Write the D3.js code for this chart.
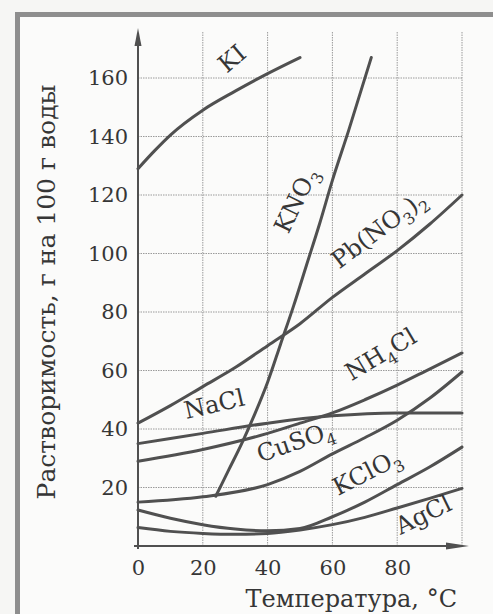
<!DOCTYPE html>
<html lang="ru">
<head>
    <meta charset="UTF-8">
    <title>Растворимость</title>
    <script src="https://d3js.org/d3.v7.min.js"></script>
    <style>
        body { margin: 0; background-color: #f6f6f4; }
        svg { display: block; }
        text { font-family: "DejaVu Serif", serif; fill: #363636; }
    </style>
</head>
<body>
    <svg id="chart" width="493" height="614"></svg>
    <script>
        // axis ticks
        const xTicks = [0, 20, 40, 60, 80];
        const yTicks = [20, 40, 60, 80, 100, 120, 140, 160];
        const xGrid = [20, 40, 60, 80, 100];

        // solubility curves, [temperature °C, g per 100 g water]
        const kiData = [[0, 129], [5, 135], [10, 140.5], [20, 149], [30, 155.5], [40, 161.5], [50, 167]];
        const kno3Data = [[24, 17], [28, 26], [32, 35], [36, 45], [40, 56], [44, 69], [48, 82], [52, 96], [56, 110], [60, 125], [65, 142], [72, 167]];
        const pbData = [[0, 42], [10, 48], [20, 54.5], [30, 61], [40, 68.5], [50, 76], [60, 85], [70, 93], [80, 101], [90, 110], [100, 120]];
        const nh4clData = [[0, 29], [20, 33], [40, 38.5], [50, 42], [60, 45.5], [70, 50], [80, 55], [90, 60.5], [100, 66]];
        const naclData = [[0, 35], [20, 38.5], [40, 42], [60, 44.5], [80, 45.5], [100, 45.5]];
        const cuso4Data = [[0, 15], [20, 16.8], [40, 21], [50, 25.5], [60, 31.5], [70, 37], [80, 43], [90, 50.5], [100, 59.5]];
        const kclo3Data = [[0, 12.3], [10, 9.5], [20, 7.3], [30, 5.8], [40, 5.2], [50, 6], [60, 10], [70, 15], [80, 21], [90, 27], [100, 33.8]];
        const agclData = [[0, 6.3], [10, 5], [20, 4.3], [30, 4], [40, 4.3], [50, 5.5], [60, 7.3], [70, 9.8], [80, 13], [90, 16.3], [100, 19.7]];

        const series = [kiData, kno3Data, pbData, nh4clData, naclData, cuso4Data, kclo3Data, agclData];

        // curve labels: name parts [text, isSubscript], anchor in data units, rotation
        const labels = [
            { parts: [["KI", 0]], t: 30.6, s: 164.5, angle: -40 },
            { parts: [["KNO", 0], ["3", 1]], t: 51, s: 117, angle: -64 },
            { parts: [["Pb(NO", 0], ["3", 1], [")", 0], ["2", 1]], t: 75.8, s: 106, angle: -37 },
            { parts: [["NH", 0], ["4", 1], ["Cl", 0]], t: 76.2, s: 63.2, angle: -31 },
            { parts: [["NaCl", 0]], t: 24.1, s: 45.8, angle: -13 },
            { parts: [["CuSO", 0], ["4", 1]], t: 49.4, s: 33, angle: -19 },
            { parts: [["KClO", 0], ["3", 1]], t: 71.8, s: 22.8, angle: -27 },
            { parts: [["AgCl", 0]], t: 89.2, s: 8.2, angle: -26 }
        ];

        const svg = d3.select("#chart");

        const x = d3.scaleLinear().domain([0, 100]).range([138, 462]);
        const y = d3.scaleLinear().domain([0, 160]).range([546, 78]);
        const gridTop = 176;

        // frame
        svg.append("rect")
            .attr("x", 17.5).attr("y", 14.5)
            .attr("width", 500).attr("height", 620)
            .attr("fill", "#fbfbfa")
            .attr("stroke", "#8e8e8e")
            .attr("stroke-width", 5);

        // grid
        const grid = svg.append("g")
            .attr("stroke", "#9a9a9a")
            .attr("stroke-width", 1)
            .attr("stroke-dasharray", "1.5,1");

        grid.selectAll(".vg").data(xGrid).enter().append("line")
            .attr("x1", d => x(d)).attr("x2", d => x(d))
            .attr("y1", y(0)).attr("y2", y(gridTop));

        grid.selectAll(".hg").data(yTicks).enter().append("line")
            .attr("x1", x(0)).attr("x2", x(100))
            .attr("y1", d => y(d)).attr("y2", d => y(d));

        // tick labels
        const yAxis = svg.append("g")
            .attr("transform", `translate(${x(0)},0)`)
            .call(d3.axisLeft(y).tickValues(yTicks).tickSize(0).tickPadding(10));
        yAxis.select(".domain").remove();

        const xAxis = svg.append("g")
            .attr("transform", `translate(0,${y(0)})`)
            .call(d3.axisBottom(x).tickValues(xTicks).tickSize(0).tickPadding(14));
        xAxis.select(".domain").remove();

        svg.selectAll(".tick text")
            .style("font-size", "21px")
            .attr("fill", "#363636");

        // axis lines with arrows
        const axisColor = "#505050";
        svg.append("line")
            .attr("x1", x(0)).attr("x2", x(0))
            .attr("y1", y(0) + 3).attr("y2", 40)
            .attr("stroke", axisColor).attr("stroke-width", 2);
        svg.append("path")
            .attr("d", `M${x(0)},28 L${x(0) - 3.5},46 L${x(0) + 3.5},46 Z`)
            .attr("fill", axisColor);

        svg.append("line")
            .attr("x1", x(0) - 4).attr("x2", 455)
            .attr("y1", y(0)).attr("y2", y(0))
            .attr("stroke", axisColor).attr("stroke-width", 2);
        svg.append("path")
            .attr("d", `M469,${y(0)} L446,${y(0) - 3.5} L446,${y(0) + 3.5} Z`)
            .attr("fill", axisColor);

        // curves
        const line = d3.line()
            .x(d => x(d[0]))
            .y(d => y(d[1]))
            .curve(d3.curveMonotoneX);

        svg.append("g").selectAll("path")
            .data(series)
            .enter().append("path")
            .attr("d", line)
            .attr("fill", "none")
            .attr("stroke", "#505050")
            .attr("stroke-width", 3)
            .attr("stroke-linecap", "round");

        // curve labels
        labels.forEach(l => {
            const t = svg.append("text")
                .attr("transform", `translate(${x(l.t)},${y(l.s)}) rotate(${l.angle})`)
                .attr("text-anchor", "middle")
                .attr("dy", "0.35em")
                .style("font-size", "24px");
            let shift = 0;
            l.parts.forEach(p => {
                const off = p[1] ? 7 : 0;
                t.append("tspan")
                    .attr("dy", off - shift)
                    .style("font-size", p[1] ? "16px" : "24px")
                    .text(p[0]);
                shift = off;
            });
        });

        // axis titles
        svg.append("text")
            .attr("transform", "translate(55,292) rotate(-90)")
            .attr("text-anchor", "middle")
            .style("font-size", "25px")
            .text("Растворимость, г на 100 г воды");

        svg.append("text")
            .attr("x", 457).attr("y", 607)
            .attr("text-anchor", "end")
            .style("font-size", "24px")
            .text("Температура, °C");
    </script>
</body>
</html>
